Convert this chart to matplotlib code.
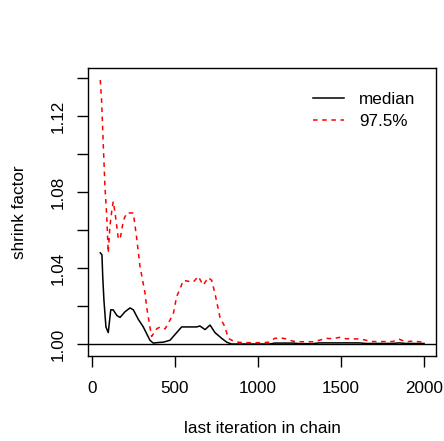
import matplotlib
matplotlib.use("Agg")
import matplotlib.pyplot as plt

plt.rcParams['font.family'] = ['Liberation Sans', 'DejaVu Sans']

# median shrink factor
med_iter = [50, 60, 65, 72, 84, 98, 113, 128, 150, 169, 199, 229, 249, 279, 309,
            349, 369, 400, 430, 470, 510, 540, 590, 631, 650, 681, 711, 741, 781,
            811, 840, 870, 910, 950, 990, 1030, 1070, 1100, 1140, 1180, 1210,
            1250, 1290, 1330, 1370, 1410, 1450, 1490, 1530, 1570, 1610, 1650,
            1690, 1730, 1770, 1810, 1850, 1890, 1930, 1970, 2000]
med_val = [1.048, 1.047, 1.035, 1.023, 1.009, 1.006, 1.018, 1.018, 1.015, 1.014,
           1.017, 1.019, 1.018, 1.013, 1.009, 1.002, 1.0005, 1.0008, 1.001,
           1.002, 1.006, 1.009, 1.009, 1.009, 1.0095, 1.0076, 1.010, 1.006,
           1.003, 1.001, 1.000, 1.000, 1.000, 1.000, 1.000, 1.000, 1.000,
           1.0005, 1.0005, 1.0005, 1.0005, 1.0002, 1.0002, 1.0002, 1.0006,
           1.0006, 1.0006, 1.0006, 1.0006, 1.0006, 1.0006, 1.0003, 1.0003,
           1.0003, 1.0003, 1.0003, 1.0006, 1.0003, 1.0003, 1.0003, 1.0003]

# upper 97.5% quantile
q_iter = [50, 58, 68, 78, 89, 98, 108, 119, 128, 139, 158, 169, 189, 209, 249,
          269, 289, 319, 330, 349, 359, 390, 410, 440, 460, 490, 510, 530, 550,
          610, 640, 670, 700, 721, 741, 771, 801, 821, 841, 871, 910, 950, 990,
          1030, 1070, 1100, 1140, 1180, 1210, 1250, 1290, 1330, 1370, 1410,
          1450, 1490, 1530, 1570, 1610, 1650, 1690, 1730, 1770, 1810, 1850,
          1890, 1930, 1970, 2000]
q_val = [1.139, 1.128, 1.105, 1.083, 1.067, 1.048, 1.062, 1.070, 1.075, 1.069,
         1.056, 1.055, 1.065, 1.069, 1.069, 1.056, 1.041, 1.027, 1.019, 1.009,
         1.004, 1.008, 1.009, 1.008, 1.011, 1.016, 1.025, 1.029, 1.0335,
         1.0326, 1.0356, 1.031, 1.035, 1.0335, 1.0265, 1.014, 1.009, 1.003,
         1.002, 1.001, 1.0008, 1.0007, 1.0007, 1.0007, 1.001, 1.003, 1.0032,
         1.0025, 1.0015, 1.0012, 1.0012, 1.0012, 1.002, 1.003, 1.0028, 1.0035,
         1.0028, 1.0027, 1.0027, 1.002, 1.0013, 1.0013, 1.0013, 1.0013, 1.0025,
         1.0012, 1.0015, 1.0012, 1.001]

x_ticks = [0, 500, 1000, 1500, 2000]
y_ticks = [1.00, 1.02, 1.04, 1.06, 1.08, 1.10, 1.12, 1.14]
y_labels = ['1.00', '', '1.04', '', '1.08', '', '1.12', '']

W, H = 444, 441
fig = plt.figure(figsize=(W / 100, H / 100), dpi=100)
ax = fig.add_axes([88 / W, 1 - 356 / H, (436 - 88) / W, (356 - 68) / H])

ax.plot(med_iter, med_val, color='black', lw=1.1, label='median')
ax.plot(q_iter, q_val, color='red', lw=1.1, ls=(0, (3, 3)), label='97.5%')
ax.axhline(1.0, color='black', lw=1.0)

ax.set_xlim(-24, 2072)
ax.set_ylim(0.9937, 1.1453)
ax.set_xticks(x_ticks)
ax.set_yticks(y_ticks)
ax.set_yticklabels(y_labels, rotation=90, va='center')
ax.tick_params(direction='out', length=8, width=1.0, labelsize=12.3)
ax.tick_params(axis='x', pad=10)
ax.tick_params(axis='y', pad=8)
for s in ax.spines.values():
    s.set_linewidth(1.0)

ax.set_xlabel('last iteration in chain', fontsize=12.3, labelpad=18)
ax.set_ylabel('shrink factor', fontsize=12.3, labelpad=17)

ax.legend(loc='upper left', bbox_to_anchor=((313 - 88) / 348, 0.918),
          frameon=False, fontsize=12.3, borderpad=0, borderaxespad=0,
          handlelength=1.8, handletextpad=0.9, labelspacing=0.45)

fig.savefig('out.png', dpi=100)
